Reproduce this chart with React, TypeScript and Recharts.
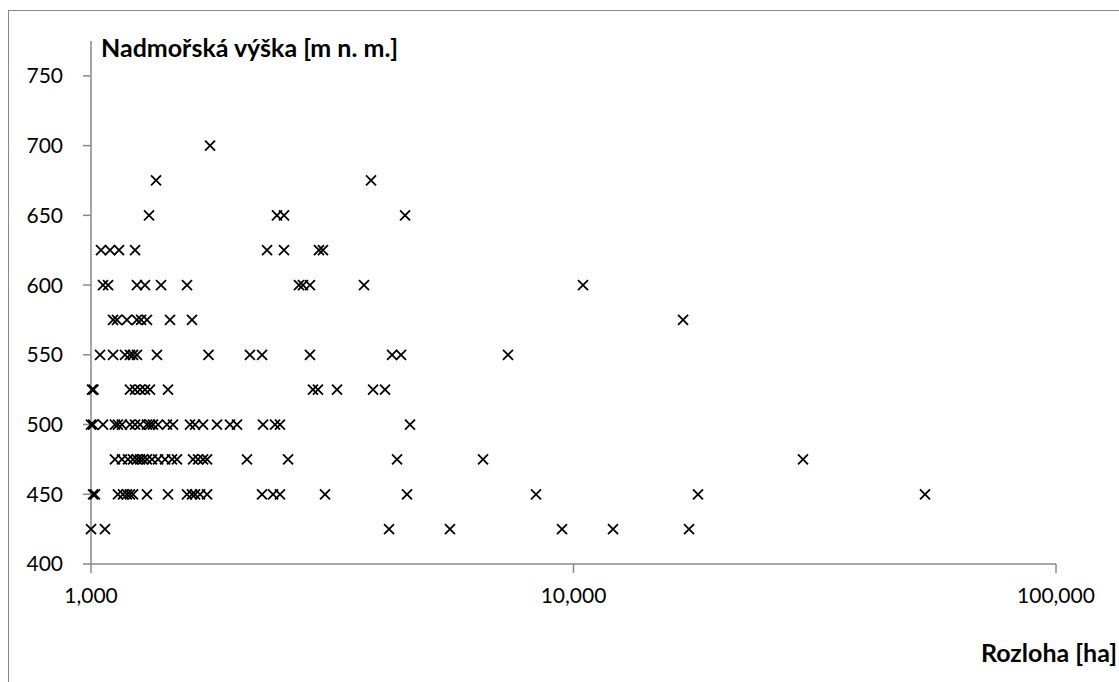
import { ScatterChart, Scatter, XAxis, YAxis, Label } from "recharts";

// area [ha] of each site, grouped by altitude row [m n. m.]
const altitudes = [425, 450, 475, 500, 525, 550, 575, 600, 625, 650, 675, 700];

const at425 = [1000, 1069, 4147, 5546, 9467, 12076, 17355];
const at450 = [1010, 1019, 1137, 1165, 1187, 1204, 1222, 1306, 1444, 1581, 1619, 1643, 1683, 1740, 2262, 2384, 2464, 3055, 4518, 8362, 18114, 53520];
const at475 = [1121, 1159, 1193, 1222, 1245, 1264, 1282, 1306, 1338, 1377, 1424, 1472, 1507, 1627, 1667, 1707, 1740, 2105, 2561, 4308, 6493, 29897];
const at500 = [1000, 1010, 1059, 1121, 1137, 1159, 1204, 1234, 1264, 1306, 1325, 1344, 1377, 1437, 1479, 1604, 1643, 1707, 1824, 1941, 2007, 2273, 2407, 2464, 4583];
const at525 = [1005, 1012, 1204, 1234, 1264, 1294, 1325, 1444, 2884, 2954, 3235, 3842, 4068];
const at550 = [1044, 1111, 1176, 1204, 1222, 1245, 1370, 1752, 2135, 2262, 2843, 4207, 4391, 7315];
const at575 = [1111, 1132, 1187, 1245, 1270, 1306, 1458, 1619, 16866];
const at600 = [1059, 1085, 1245, 1294, 1397, 1581, 2698, 2750, 2843, 3680, 10464];
const at625 = [1049, 1095, 1143, 1234, 2317, 2512, 2968, 3025];
const at650 = [1319, 2429, 2512, 4476];
const at675 = [1364, 3805];
const at700 = [1765];

const rows = [at425, at450, at475, at500, at525, at550, at575, at600, at625, at650, at675, at700];

const xTicks = [1000, 10000, 100000];
const yTicks = [400, 450, 500, 550, 600, 650, 700, 750];

const points = rows.flatMap((areas, i) => areas.map((x) => ({ x, y: altitudes[i] })));

const FONT = "Lato, 'Open Sans', sans-serif";
const AXIS = "#898989";

const Cross = (props: any) => {
  const { cx, cy } = props;
  if (cx == null || cy == null) return null;
  const r = 5;
  return (
    <path
      d={`M${cx - r},${cy - r}L${cx + r},${cy + r}M${cx + r},${cy - r}L${cx - r},${cy + r}`}
      stroke="#000"
      strokeWidth={1.8}
      fill="none"
    />
  );
};

export default function App() {
  return (
    <div
      style={{
        position: "fixed",
        left: 0,
        top: 0,
        width: 1119,
        height: 682,
        overflow: "hidden",
        background: "#fff",
      }}
    >
      <div
        style={{
          position: "absolute",
          left: 8,
          top: 10,
          width: 1300,
          height: 900,
          border: `1px solid ${AXIS}`,
        }}
      />
      <div style={{ position: "absolute", left: 0, top: 0 }}>
        <ScatterChart
          width={1119}
          height={682}
          margin={{ top: 41, right: 63, left: 0, bottom: 88 }}
        >
          <XAxis
            type="number"
            dataKey="x"
            scale="log"
            domain={[1000, 100000]}
            ticks={xTicks}
            height={30}
            tickFormatter={(v) => Number(v).toLocaleString("en-US")}
            tick={{ fill: "#000", fontSize: 21, fontFamily: FONT }}
            tickSize={9}
            tickMargin={15}
            stroke={AXIS}
            strokeWidth={1.5}
          >
            <Label
              content={({ viewBox }: any) => (
                <text
                  x={viewBox.x + viewBox.width + 61}
                  y={662}
                  textAnchor="end"
                  fontFamily={FONT}
                  fontWeight={700}
                  fontSize={25}
                  fill="#000"
                >
                  Rozloha [ha]
                </text>
              )}
            />
          </XAxis>
          <YAxis
            type="number"
            dataKey="y"
            domain={[400, 775]}
            ticks={yTicks}
            width={91}
            tick={{ fill: "#000", fontSize: 21, fontFamily: FONT }}
            tickSize={8}
            tickMargin={20}
            stroke={AXIS}
            strokeWidth={1.5}
          >
            <Label
              content={({ viewBox }: any) => (
                <text
                  x={viewBox.x + viewBox.width + 10}
                  y={viewBox.y + 16}
                  textAnchor="start"
                  fontFamily={FONT}
                  fontWeight={700}
                  fontSize={25}
                  fill="#000"
                >
                  Nadmořská výška [m n. m.]
                </text>
              )}
            />
          </YAxis>
          <Scatter data={points} shape={Cross} isAnimationActive={false} />
        </ScatterChart>
      </div>
    </div>
  );
}
